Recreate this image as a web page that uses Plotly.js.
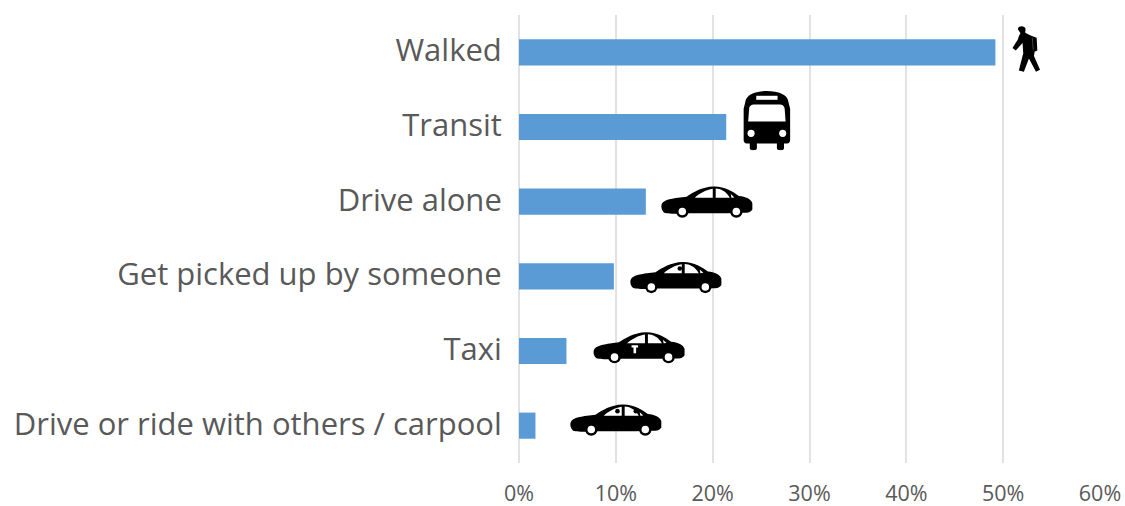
<!DOCTYPE html>
<html><head><meta charset="utf-8">
<script src="https://cdn.plot.ly/plotly-3.0.1.min.js"></script>
<style>html,body{margin:0;padding:0;background:#fff}#c{width:1125px;height:506px}</style>
</head><body><div id="c"></div>
<script>
const categories = ["Walked","Transit","Drive alone","Get picked up by someone","Taxi","Drive or ride with others / carpool"];
const shares = [49.2,21.4,13.1,9.8,4.9,1.7];
const xTicks = [0,10,20,30,40,50,60];
const xTickLabels = ["0%","10%","20%","30%","40%","50%","60%"];

const carBody = '<path fill="#000" d="M31,95 C31,80 45,74 75,69 L108,65 C128,52 155,35 190,34 C225,33 250,50 268,63 C288,65 306,72 309,85 L309,104 C305,112 296,114 282,114 L230,115 L115,115 C90,117 45,118 38,112 C33,106 31,101 31,95 Z"/>'
 + '<path fill="#fff" d="M133,68 C148,55 168,44 188,41 L188,68 Z M197,40 C212,41 228,47 240,68 L197,68 Z M243,57 L254,67 L245,68 Z"/>'
 + '<circle cx="95" cy="110" r="19" fill="#000"/><circle cx="95" cy="110" r="11.5" fill="#fff"/>'
 + '<circle cx="260" cy="110" r="19" fill="#000"/><circle cx="260" cy="110" r="11.5" fill="#fff"/>';
const svgUri = (vb, inner) => 'data:image/svg+xml;charset=utf-8,' + encodeURIComponent(
  '<svg xmlns="http://www.w3.org/2000/svg" viewBox="' + vb + '" width="600" preserveAspectRatio="none">' + inner + '</svg>');
const car = extra => svgUri('28 30 284 100', carBody + extra);
const head = (x, y) => '<circle cx="' + x + '" cy="' + y + '" r="7" fill="#000"/>';
const icons = {
  walker: svgUri('95 48 85 137', '<path fill="#000" d="M112,60 C112,50 130,48 135,58 L134,70 L150,78 L168,85 L170,122 L162,126 L160,138 L178,178 L166,184 L145,145 L130,184 L115,180 L128,130 L126,100 L106,122 L96,115 L112,90 C115,80 118,74 120,72 Z"/><path fill="none" stroke="#888" stroke-width="1.5" d="M155,85 L158,120"/>'),
  bus: svgUri('0 0 150 178', '<path fill="#000" d="M8,35 C10,12 40,2 75,2 C110,2 140,12 142,35 L147,55 L147,148 C147,155 143,158 138,158 L128,158 L128,172 C128,180 106,180 106,172 L106,158 L44,158 L44,172 C44,180 22,180 22,172 L22,158 L12,158 C7,158 3,155 3,148 L3,55 Z"/><path fill="#fff" d="M20,55 C20,46 28,42 36,42 L114,42 C122,42 130,46 130,55 L133,93 L17,93 Z"/><rect x="42" y="16" width="66" height="12" fill="#fff"/><circle cx="26" cy="128" r="11" fill="#fff"/><circle cx="124" cy="128" r="11" fill="#fff"/>'),
  carPlain: car(''),
  carDriver: car(head(182, 54)),
  carTaxi: car('<path fill="#fff" d="M147,74 L167,74 L167,81 L161,81 L161,98 L153,98 L153,81 L147,81 Z"/>'),
  carPool: car(head(175, 54) + head(231, 54))
};
const iconOrder = ["walker","bus","carPlain","carDriver","carTaxi","carPool"];
const iconX = [52.4,25.6,19.4,16.2,12.4,10.0];
const iconRow = [-0.05,0.91,2.0,3.01,3.95,4.92];
const iconW = [2.95,5.0,9.6,9.6,9.6,9.6];
const iconH = [0.63,0.80,0.44,0.44,0.44,0.44];

Plotly.newPlot('c', [{
  type:'bar', orientation:'h', y:categories, x:shares,
  marker:{color:'#5b9bd5', line:{width:0}}, hoverinfo:'x+y'
}], {
  width:1125, height:506, showlegend:false,
  paper_bgcolor:'#fff', plot_bgcolor:'#fff',
  margin:{l:519,r:25,t:15,b:43,pad:0},
  bargap:0.65,
  font:{family:'"Open Sans", sans-serif', color:'#595959'},
  xaxis:{range:[0,60], tickvals:xTicks, ticktext:xTickLabels, tickmode:'array',
    showgrid:true, gridcolor:'#e2e2e2', gridwidth:1.5, zeroline:true, zerolinecolor:'#e2e2e2', zerolinewidth:1.5,
    showline:false, ticks:'outside', ticklen:11, tickcolor:'rgba(0,0,0,0)', tickfont:{size:21.5,color:'#595959'}},
  yaxis:{type:'category', categoryorder:'array', categoryarray:categories, range:[5.5,-0.5],
    showgrid:false, zeroline:false, showline:false, ticks:'outside', ticklen:10, tickcolor:'rgba(0,0,0,0)',
    ticklabelshift:2, tickfont:{size:31,color:'#595959'}},
  images: iconOrder.map((k,i)=>({source:icons[k], xref:'x', yref:'y', x:iconX[i], y:iconRow[i],
    sizex:iconW[i], sizey:iconH[i], xanchor:'center', yanchor:'middle', sizing:'stretch', layer:'above'}))
}, {displayModeBar:false, responsive:false});
</script></body></html>
